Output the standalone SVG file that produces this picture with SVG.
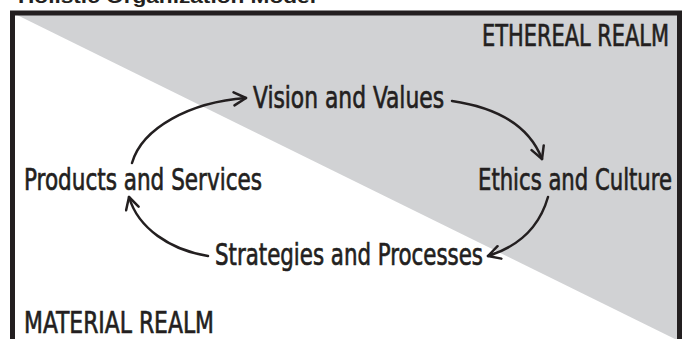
<svg xmlns="http://www.w3.org/2000/svg" width="685" height="339" viewBox="0 0 685 339">
  <defs>
    <style>
      .lbl { font-family: "DejaVu Sans Condensed", "Liberation Sans Narrow", "Roboto Condensed", "Liberation Sans", sans-serif; font-stretch: condensed; font-size: 23px; fill: #231f20; stroke: #231f20; stroke-width: 0.5; }
      .title { font-family: "Liberation Sans", Arial, sans-serif; font-weight: bold; font-size: 19px; fill: #231f20; }
      .conn { fill: none; stroke: #231f20; stroke-width: 2.5; stroke-linecap: round; }
    </style>
    <marker id="arrow" viewBox="-14 -8 16 16" refX="0" refY="0" markerWidth="16" markerHeight="16" markerUnits="userSpaceOnUse" orient="auto">
      <path d="M-12,-6.5 L0,0 L-12,6.5" fill="none" stroke="#231f20" stroke-width="2.5" stroke-linecap="round" stroke-linejoin="round"/>
    </marker>
  </defs>

  <rect x="0" y="0" width="685" height="339" fill="#ffffff"/>

  <!-- heading, cut by the top edge -->
  <text class="title" x="18" y="3" textLength="298" lengthAdjust="spacingAndGlyphs">Holistic Organization Model</text>

  <!-- the two realms: grey upper-right triangle over a white field -->
  <polygon points="17,15 677,15 677,340" fill="#d1d2d4"/>
  <rect x="12.5" y="13" width="667" height="400" fill="none" stroke="#231f20" stroke-width="5"/>

  <!-- labels are set in a condensed face, stretched vertically -->
  <g id="realm-ethereal">
    <text class="lbl" transform="translate(482,46) scale(1,1.3)" textLength="187" lengthAdjust="spacingAndGlyphs">ETHEREAL REALM</text>
  </g>
  <g id="realm-material">
    <text class="lbl" transform="translate(24,333) scale(1,1.3)" textLength="190" lengthAdjust="spacingAndGlyphs">MATERIAL REALM</text>
  </g>

  <g id="node-vision">
    <text class="lbl" transform="translate(253,108) scale(1,1.3)" textLength="191" lengthAdjust="spacingAndGlyphs">Vision and Values</text>
  </g>
  <g id="node-ethics">
    <text class="lbl" transform="translate(478,190) scale(1,1.3)" textLength="194" lengthAdjust="spacingAndGlyphs">Ethics and Culture</text>
  </g>
  <g id="node-strategies">
    <text class="lbl" transform="translate(215,265) scale(1,1.3)" textLength="268" lengthAdjust="spacingAndGlyphs">Strategies and Processes</text>
  </g>
  <g id="node-products">
    <text class="lbl" transform="translate(24,190) scale(1,1.3)" textLength="238" lengthAdjust="spacingAndGlyphs">Products and Services</text>
  </g>

  <g id="connectors">
    <path class="conn" marker-end="url(#arrow)" d="M132,163 C142,128 190,102 246,98"/>
    <path class="conn" marker-end="url(#arrow)" d="M452,101 C500,108 530,128 542,159"/>
    <path class="conn" marker-end="url(#arrow)" d="M548,197 C540,225 520,246 488,256"/>
    <path class="conn" marker-end="url(#arrow)" d="M208,256 C170,250 138,228 129,197"/>
  </g>
</svg>
